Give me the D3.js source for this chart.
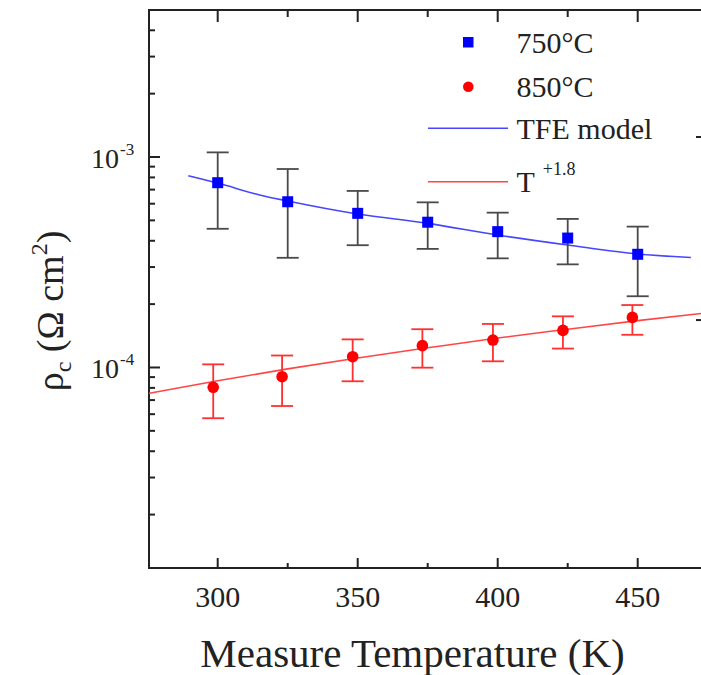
<!DOCTYPE html>
<html>
<head>
<meta charset="utf-8">
<script src="https://cdn.jsdelivr.net/npm/d3@7"></script>
<style>
  html, body { margin: 0; padding: 0; background: #fff; }
  svg { display: block; }
  text { font-family: "Liberation Serif", "Times New Roman", serif; fill: #222; }
</style>
</head>
<body>
<svg id="chart" width="701" height="675"></svg>
<script>
// ---- data ----
const temps750 = [300, 325, 350, 375, 400, 425, 450];
const rho750 = [7.55e-4, 6.13e-4, 5.40e-4, 4.90e-4, 4.42e-4, 4.12e-4, 3.45e-4];
const rho750Hi = [1.052e-3, 8.77e-4, 6.90e-4, 6.09e-4, 5.44e-4, 5.08e-4, 4.67e-4];
const rho750Lo = [4.56e-4, 3.32e-4, 3.81e-4, 3.66e-4, 3.30e-4, 3.09e-4, 2.18e-4];

const temps850 = [298.4, 323.0, 348.2, 373.1, 398.3, 423.3, 448.1];
const rho850 = [8.05e-5, 9.04e-5, 1.125e-4, 1.27e-4, 1.35e-4, 1.50e-4, 1.73e-4];
const rho850Hi = [1.035e-4, 1.14e-4, 1.36e-4, 1.52e-4, 1.61e-4, 1.75e-4, 1.98e-4];
const rho850Lo = [5.74e-5, 6.56e-5, 8.6e-5, 9.98e-5, 1.07e-4, 1.23e-4, 1.43e-4];

const tfeTemps = [289.5, 300, 315, 325, 350, 375, 400, 425, 450, 469];
const tfeRho = [8.15e-4, 7.52e-4, 6.60e-4, 6.18e-4, 5.36e-4, 4.84e-4, 4.26e-4, 3.82e-4, 3.46e-4, 3.33e-4];

const powTemps = [275, 300, 325, 350, 375, 400, 425, 450, 475];
const powRho = [7.52e-5, 8.65e-5, 9.85e-5, 1.11e-4, 1.24e-4, 1.38e-4, 1.52e-4, 1.67e-4, 1.82e-4];

const xMajorTicks = [300, 350, 400, 450];
const xMinorTicks = [325, 375, 425];
const yMajorTicks = [1e-4, 1e-3];
const yMajorLabels = ["-4", "-3"];
const yMinorTicks = [2e-5,3e-5,4e-5,5e-5,6e-5,7e-5,8e-5,9e-5,2e-4,3e-4,4e-4,5e-4,6e-4,7e-4,8e-4,9e-4,2e-3,3e-3,4e-3];
const rightTicks = [1.245e-3, 1.68e-4];

const legendLabels = ["750°C", "850°C", "TFE model", "T"];

// ---- layout ----
const svg = d3.select("#chart");
const W = 701, H = 675;
svg.append("rect").attr("width", W).attr("height", H).attr("fill", "#fff");

const pLeft = 149, pTop = 10, pBottom = 568, pRight = 708;
const x = d3.scaleLinear().domain([275, 475]).range([147.7, 707.7]);
const y = d3.scaleLog().domain([1.115e-5, 5e-3]).range([pBottom, 9.9]);

svg.append("defs").append("clipPath").attr("id", "clip")
  .append("rect").attr("x", pLeft).attr("y", pTop).attr("width", pRight - pLeft).attr("height", pBottom - pTop);

const axisColor = "#222";

// frame
svg.append("line").attr("x1", pLeft).attr("x2", W).attr("y1", pTop).attr("y2", pTop)
  .attr("stroke", axisColor).attr("stroke-width", 2);
svg.append("line").attr("x1", pLeft - 1).attr("x2", W).attr("y1", pBottom).attr("y2", pBottom)
  .attr("stroke", axisColor).attr("stroke-width", 2);
svg.append("line").attr("x1", pLeft).attr("x2", pLeft).attr("y1", pTop - 1).attr("y2", pBottom + 1)
  .attr("stroke", axisColor).attr("stroke-width", 2);

// x ticks (bottom and top, inward)
const g = svg.append("g");
xMajorTicks.forEach(v => {
  g.append("line").attr("x1", x(v)).attr("x2", x(v)).attr("y1", pBottom).attr("y2", pBottom - 10)
    .attr("stroke", axisColor).attr("stroke-width", 2);
  g.append("line").attr("x1", x(v)).attr("x2", x(v)).attr("y1", pTop).attr("y2", pTop + 12)
    .attr("stroke", axisColor).attr("stroke-width", 2);
  g.append("text").attr("x", x(v)).attr("y", 606.5).attr("text-anchor", "middle")
    .attr("font-size", 30).text(v);
});
xMinorTicks.forEach(v => {
  g.append("line").attr("x1", x(v)).attr("x2", x(v)).attr("y1", pBottom).attr("y2", pBottom - 5)
    .attr("stroke", axisColor).attr("stroke-width", 2);
  g.append("line").attr("x1", x(v)).attr("x2", x(v)).attr("y1", pTop).attr("y2", pTop + 7)
    .attr("stroke", axisColor).attr("stroke-width", 2);
});

// y ticks (left, inward)
yMajorTicks.forEach((v, i) => {
  g.append("line").attr("x1", pLeft).attr("x2", pLeft + 11).attr("y1", y(v)).attr("y2", y(v))
    .attr("stroke", axisColor).attr("stroke-width", 2);
  const t = g.append("text").attr("x", 91).attr("y", y(v) + 11).attr("font-size", 28);
  t.append("tspan").text("10");
  t.append("tspan").attr("font-size", 17).attr("dy", -13).attr("dx", 1).text(yMajorLabels[i]);
});
yMinorTicks.forEach(v => {
  g.append("line").attr("x1", pLeft).attr("x2", pLeft + 6).attr("y1", y(v)).attr("y2", y(v))
    .attr("stroke", axisColor).attr("stroke-width", 2);
});
rightTicks.forEach(v => {
  g.append("line").attr("x1", 696).attr("x2", W).attr("y1", y(v)).attr("y2", y(v))
    .attr("stroke", axisColor).attr("stroke-width", 2);
});

// axis titles
svg.append("text").attr("x", 412.5).attr("y", 667).attr("text-anchor", "middle")
  .attr("font-size", 41).text("Measure Temperature (K)");
const yt = svg.append("text").attr("transform", "translate(63,311) rotate(-90)")
  .attr("text-anchor", "middle").attr("font-size", 38);
yt.append("tspan").text("ρ");
yt.append("tspan").attr("font-size", 24).attr("dy", 8).text("c");
yt.append("tspan").attr("dy", -8).text(" (Ω cm");
yt.append("tspan").attr("font-size", 24).attr("dy", -16).text("2");
yt.append("tspan").attr("dy", 16).text(")");

// plot content
const plot = svg.append("g").attr("clip-path", "url(#clip)");
const line = d3.line().x(d => x(d[0])).y(d => y(d[1])).curve(d3.curveMonotoneX);

plot.append("path").datum(powTemps.map((t, i) => [t, powRho[i]]))
  .attr("d", line).attr("fill", "none").attr("stroke", "rgb(255,70,70)").attr("stroke-width", 1.6);
plot.append("path").datum(tfeTemps.map((t, i) => [t, tfeRho[i]]))
  .attr("d", line).attr("fill", "none").attr("stroke", "rgb(70,70,255)").attr("stroke-width", 1.6);

// error bars
function errorBars(temps, lo, hi, color) {
  temps.forEach((t, i) => {
    const cx = x(t);
    plot.append("line").attr("x1", cx).attr("x2", cx).attr("y1", y(hi[i])).attr("y2", y(lo[i]))
      .attr("stroke", color).attr("stroke-width", 1.8);
    [hi[i], lo[i]].forEach(v => {
      plot.append("line").attr("x1", cx - 11).attr("x2", cx + 11).attr("y1", y(v)).attr("y2", y(v))
        .attr("stroke", color).attr("stroke-width", 1.8);
    });
  });
}
errorBars(temps750, rho750Lo, rho750Hi, "#4a4a4a");
errorBars(temps850, rho850Lo, rho850Hi, "#ff3030");

plot.selectAll(".sq").data(temps750).enter().append("rect")
  .attr("x", d => x(d) - 5.5).attr("y", (d, i) => y(rho750[i]) - 5.5)
  .attr("width", 11).attr("height", 11).attr("fill", "#0000ff");
plot.selectAll(".ci").data(temps850).enter().append("circle")
  .attr("cx", d => x(d)).attr("cy", (d, i) => y(rho850[i])).attr("r", 5.8).attr("fill", "#ff0000");

// legend
const lg = svg.append("g");
lg.append("rect").attr("x", 463).attr("y", 37).attr("width", 10.5).attr("height", 10.5).attr("fill", "#0000ff");
lg.append("circle").attr("cx", 468.3).attr("cy", 86.7).attr("r", 5.3).attr("fill", "#ff0000");
lg.append("line").attr("x1", 428).attr("x2", 508).attr("y1", 128.3).attr("y2", 128.3)
  .attr("stroke", "rgb(70,70,255)").attr("stroke-width", 1.6);
lg.append("line").attr("x1", 428).attr("x2", 508).attr("y1", 181.7).attr("y2", 181.7)
  .attr("stroke", "rgb(255,70,70)").attr("stroke-width", 1.6);
const lys = [53.3, 96.7, 138.5, 191.7];
legendLabels.forEach((s, i) => {
  const t = lg.append("text").attr("x", 516.5).attr("y", lys[i]).attr("font-size", 30).text(s);
  if (i === 3) {
    t.append("tspan").attr("font-size", 18).attr("dx", 8).attr("dy", -17).text("+1.8");
  }
});
</script>
</body>
</html>
